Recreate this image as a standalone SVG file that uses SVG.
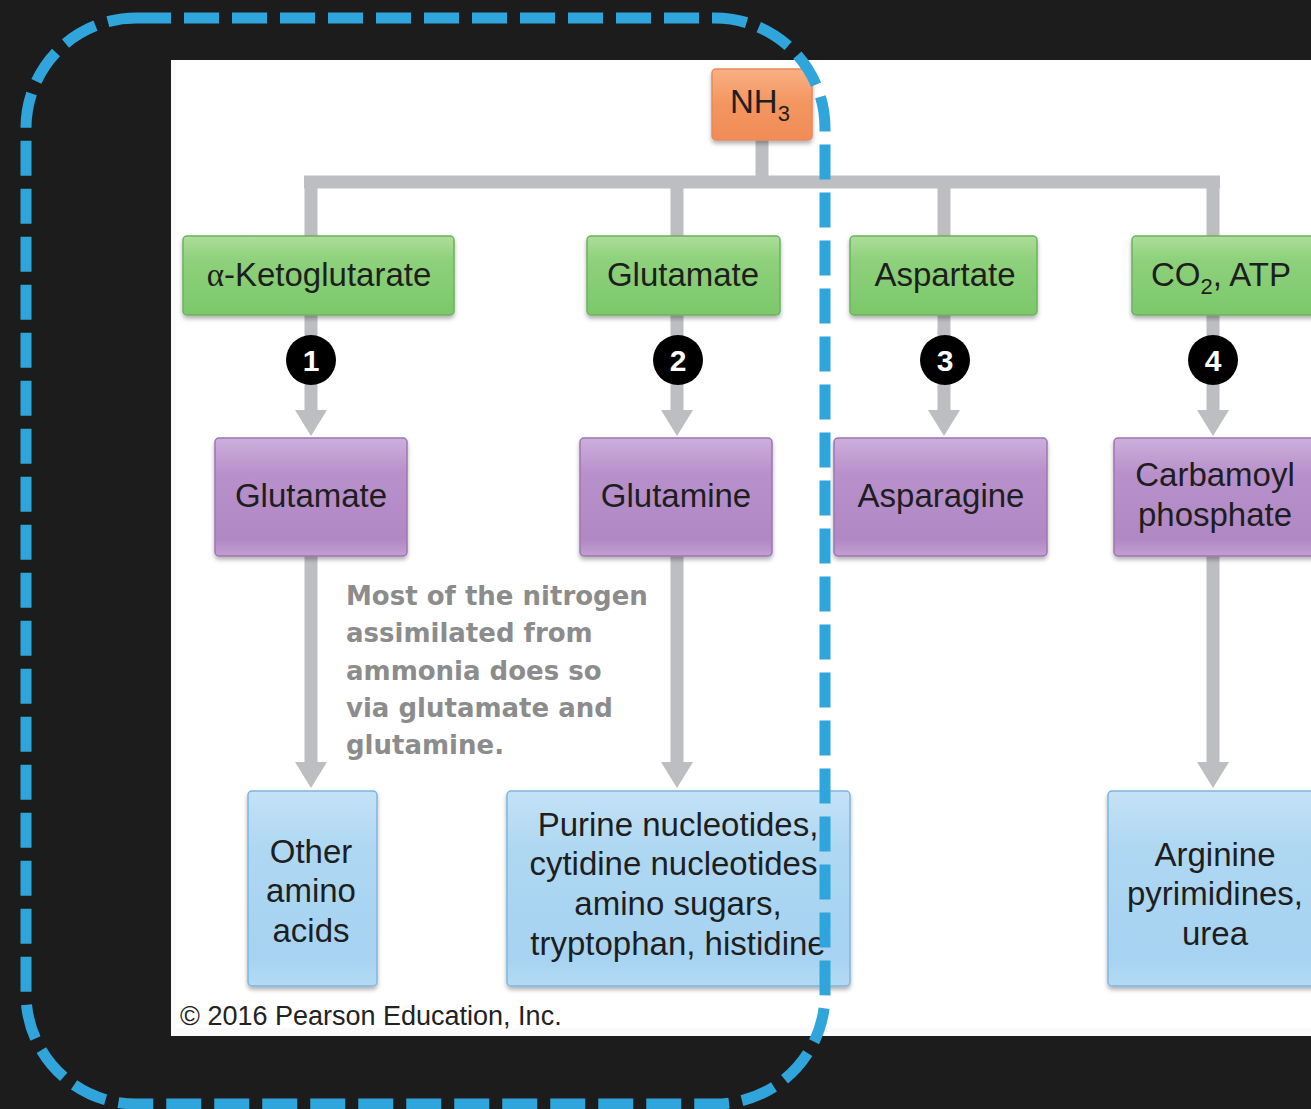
<svg xmlns="http://www.w3.org/2000/svg" width="1311" height="1109" viewBox="0 0 1311 1109">
<defs>
<linearGradient id="gOr" x1="0" y1="0" x2="0" y2="1"><stop offset="0" stop-color="#f8b084"/><stop offset="0.5" stop-color="#f4955f"/><stop offset="1" stop-color="#f08c58"/></linearGradient>
<linearGradient id="gGr" x1="0" y1="0" x2="0" y2="1"><stop offset="0" stop-color="#aedd9b"/><stop offset="0.3" stop-color="#8ed17b"/><stop offset="1" stop-color="#7cc86a"/></linearGradient>
<linearGradient id="gPu" x1="0" y1="0" x2="0" y2="1"><stop offset="0" stop-color="#cdb0dc"/><stop offset="0.3" stop-color="#b890cb"/><stop offset="0.85" stop-color="#b088c4"/><stop offset="1" stop-color="#c29fd2"/></linearGradient>
<linearGradient id="gBl" x1="0" y1="0" x2="0" y2="1"><stop offset="0" stop-color="#c4e2f6"/><stop offset="0.3" stop-color="#aed7f2"/><stop offset="0.85" stop-color="#a6d3f1"/><stop offset="1" stop-color="#b4daf3"/></linearGradient>
<filter id="sh" x="-10%" y="-10%" width="120%" height="130%"><feDropShadow dx="0" dy="3" stdDeviation="2" flood-color="#000" flood-opacity="0.3"/></filter>
<marker id="ah" viewBox="0 0 26 32" refX="0" refY="16" markerWidth="26" markerHeight="32" markerUnits="userSpaceOnUse" orient="auto"><path d="M0 0 L26 16 L0 32 Z" fill="#bdbec2"/></marker>
</defs>
<style>
.ln{stroke:#bdbec2;stroke-width:13;fill:none}
.t{font-family:"Liberation Sans",Arial,sans-serif;font-size:33px;fill:#1e1e1e;text-anchor:middle}
.num{font-family:"Liberation Sans",Arial,sans-serif;font-size:30px;font-weight:bold;fill:#fff;text-anchor:middle}
.note{font-family:"DejaVu Sans",Verdana,sans-serif;font-size:26px;font-weight:bold;fill:#8c8c8c}
.box{filter:url(#sh)}
</style>
<rect x="0" y="0" width="1311" height="1109" fill="#1c1c1c"/>
<rect x="171" y="60" width="1140" height="976" fill="#fafafa"/>
<rect x="176" y="60" width="1135" height="968" fill="#ffffff"/>

<g id="connectors">
<path class="ln" d="M762 140 V182 M304 182 H1220 M311 182 V236 M677 182 V236 M944 182 V236 M1213 182 V236"/>
<path class="ln" d="M311 315 V410" marker-end="url(#ah)"/>
<path class="ln" d="M677 315 V410" marker-end="url(#ah)"/>
<path class="ln" d="M944 315 V410" marker-end="url(#ah)"/>
<path class="ln" d="M1213 315 V410" marker-end="url(#ah)"/>
<path class="ln" d="M311 556 V762" marker-end="url(#ah)"/>
<path class="ln" d="M677 556 V762" marker-end="url(#ah)"/>
<path class="ln" d="M1213 556 V762" marker-end="url(#ah)"/>
</g>

<g id="nh3"><rect class="box" x="712" y="69" width="100" height="71" rx="4" fill="url(#gOr)" stroke="#e9885a" stroke-width="1.5"/>
<text class="t" x="760" y="113">NH<tspan font-size="22" dy="8">3</tspan></text></g>

<g id="akg"><rect class="box" x="183" y="236" width="271" height="79" rx="4" fill="url(#gGr)" stroke="#6bb35b" stroke-width="1.5"/><text class="t" x="319" y="286"><tspan font-family="'Liberation Serif','Times New Roman',serif">α</tspan>-Ketoglutarate</text></g>
<g id="glu1"><rect class="box" x="587" y="236" width="193" height="79" rx="4" fill="url(#gGr)" stroke="#6bb35b" stroke-width="1.5"/><text class="t" x="683" y="286">Glutamate</text></g>
<g id="asp"><rect class="box" x="850" y="236" width="187" height="79" rx="4" fill="url(#gGr)" stroke="#6bb35b" stroke-width="1.5"/><text class="t" x="945" y="286">Aspartate</text></g>
<g id="co2"><rect class="box" x="1132" y="236" width="190" height="79" rx="4" fill="url(#gGr)" stroke="#6bb35b" stroke-width="1.5"/><text class="t" x="1221" y="286">CO<tspan font-size="22" dy="8">2</tspan><tspan dy="-8">, ATP</tspan></text></g>

<g id="n1"><circle cx="311" cy="360" r="25" fill="#000"/><text class="num" x="311" y="371">1</text></g>
<g id="n2"><circle cx="678" cy="360" r="25" fill="#000"/><text class="num" x="678" y="371">2</text></g>
<g id="n3"><circle cx="945" cy="360" r="25" fill="#000"/><text class="num" x="945" y="371">3</text></g>
<g id="n4"><circle cx="1213" cy="360" r="25" fill="#000"/><text class="num" x="1213" y="371">4</text></g>

<g id="glu2"><rect class="box" x="215" y="438" width="192" height="118" rx="4" fill="url(#gPu)" stroke="#9e74b2" stroke-width="1.5"/><text class="t" x="311" y="507">Glutamate</text></g>
<g id="gln"><rect class="box" x="580" y="438" width="192" height="118" rx="4" fill="url(#gPu)" stroke="#9e74b2" stroke-width="1.5"/><text class="t" x="676" y="507">Glutamine</text></g>
<g id="asn"><rect class="box" x="834" y="438" width="213" height="118" rx="4" fill="url(#gPu)" stroke="#9e74b2" stroke-width="1.5"/><text class="t" x="941" y="507">Asparagine</text></g>
<g id="cp"><rect class="box" x="1114" y="438" width="210" height="118" rx="4" fill="url(#gPu)" stroke="#9e74b2" stroke-width="1.5"/><text class="t" x="1215" y="486">Carbamoyl</text><text class="t" x="1215" y="526">phosphate</text></g>

<g id="note"><text class="note" x="346" y="605">Most of the nitrogen</text><text class="note" x="346" y="642">assimilated from</text><text class="note" x="346" y="680">ammonia does so</text><text class="note" x="346" y="717">via glutamate and</text><text class="note" x="346" y="754">glutamine.</text></g>

<g id="oaa"><rect class="box" x="248" y="791" width="129" height="195" rx="4" fill="url(#gBl)" stroke="#7fb5df" stroke-width="1.5"/><text class="t" x="311" y="863">Other</text><text class="t" x="311" y="902">amino</text><text class="t" x="311" y="942">acids</text></g>
<g id="pur"><rect class="box" x="507" y="791" width="343" height="195" rx="4" fill="url(#gBl)" stroke="#7fb5df" stroke-width="1.5"/><text class="t" x="678" y="836">Purine nucleotides,</text><text class="t" x="678" y="875">cytidine nucleotides,</text><text class="t" x="678" y="915">amino sugars,</text><text class="t" x="678" y="955">tryptophan, histidine</text></g>
<g id="arg"><rect class="box" x="1108" y="791" width="215" height="195" rx="4" fill="url(#gBl)" stroke="#7fb5df" stroke-width="1.5"/><text class="t" x="1215" y="866">Arginine</text><text class="t" x="1215" y="905">pyrimidines,</text><text class="t" x="1215" y="945">urea</text></g>

<text x="180" y="1025" font-family="'Liberation Sans',Arial,sans-serif" font-size="27" fill="#222">© 2016 Pearson Education, Inc.</text>

<rect x="26" y="18" width="799" height="1086" rx="110" fill="none" stroke="#2fa5dc" stroke-width="11" stroke-dasharray="35 13"/>
</svg>
